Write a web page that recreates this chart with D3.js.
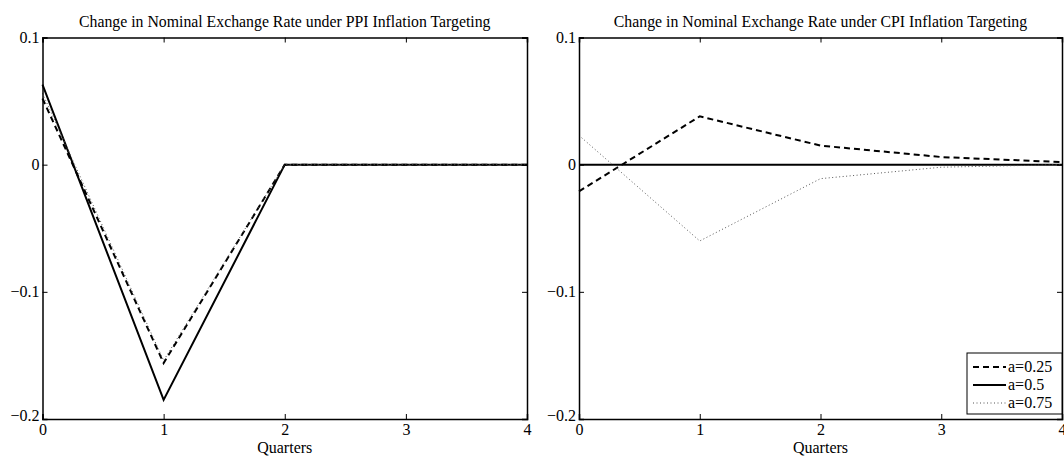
<!DOCTYPE html>
<html>
<head>
<meta charset="utf-8">
<script src="https://cdn.jsdelivr.net/npm/d3@7"></script>
<style>
  body { margin: 0; background: #fff; }
  text { font-family: "Liberation Serif", "Times New Roman", serif; fill: #000; }
</style>
</head>
<body>
<script>
"use strict";
(function(){
    // quarters on x axis
    const quarters = [0, 1, 2, 3, 4]
    const xTicks = [0, 1, 2, 3, 4]
    const yTicks = [0.1, 0, -0.1, -0.2]

    // PPI panel
    const ppiDash = [0.052, -0.156, 0, 0, 0]
    const ppiSolid = [0.063, -0.185, 0, 0, 0]
    const ppiDot = [0.056, -0.154, 0, 0, 0]

    // CPI panel
    const cpiDash = [-0.021, 0.038, 0.015, 0.006, 0.002]
    const cpiSolid = [0, 0, 0, 0, 0]
    const cpiDot = [0.023, -0.060, -0.011, -0.002, 0]

    const legendLabels = ["a=0.25", "a=0.5", "a=0.75"]

    const measurements = {
        width: 1064,
        height: 457,
        top: 37.5,
        bottom: 419
    }

    const styles = [
        { dash: "6,4", width: 2, color: "#000" },
        { dash: null, width: 2, color: "#000" },
        { dash: "1,2.5", width: 1, color: "#555" }
    ]

    const svg = d3.select('body').append("svg")
        .attr('width', measurements.width)
        .attr('height', measurements.height)

    function drawPanel(left, right, title, series, withLegend) {
        const scaleX = d3.scaleLinear().domain([0, 4]).range([left, right])
        const scaleY = d3.scaleLinear().domain([-0.2, 0.1]).range([measurements.bottom, measurements.top])
        const g = svg.append('g')

        // lines
        const line = d3.line()
            .x((d, i) => scaleX(quarters[i]))
            .y(d => scaleY(d))
        series.forEach((s, k) => {
            g.append('path')
                .attr('d', line(s))
                .attr('fill', 'none')
                .attr('stroke', styles[k].color)
                .attr('stroke-width', styles[k].width)
                .attr('stroke-dasharray', styles[k].dash)
        })

        // axes, ticks inward on all sides
        const fmt = d => d === 0 ? "0" : d3.format(".1f")(d).replace("-", "\u2212")
        const xAxis = d3.axisBottom(scaleX).tickValues(xTicks).tickSize(-5).tickPadding(5).tickFormat(d3.format("d"))
        const xTop = d3.axisTop(scaleX).tickValues(xTicks).tickSize(-5).tickFormat("")
        const yAxis = d3.axisLeft(scaleY).tickValues(yTicks).tickSize(-5).tickPadding(3).tickFormat(fmt)
        const yRight = d3.axisRight(scaleY).tickValues(yTicks).tickSize(-5).tickFormat("")

        g.append('g').attr('transform', `translate(0,${measurements.bottom})`).call(xAxis)
        g.append('g').attr('transform', `translate(0,${measurements.top})`).call(xTop)
        const gy = g.append('g').attr('transform', `translate(${left},0)`).call(yAxis)
        g.append('g').attr('transform', `translate(${right},0)`).call(yRight)
        g.selectAll('.domain').attr('stroke', '#000').attr('stroke-width', 1.5)
        g.selectAll('.tick line').attr('stroke', '#000')
        g.selectAll('.tick text').style('font-family', '"Liberation Serif", serif').style('font-size', '16px')

        // -0.2 sits a bit above its tick, like the original
        gy.selectAll('.tick text').filter(d => d === -0.2).attr('dy', '0.1em')

        g.append('text')
            .attr('x', (left + right) / 2)
            .attr('y', 27)
            .attr('text-anchor', 'middle')
            .style('font-size', '15.8px')
            .text(title)

        g.append('text')
            .attr('x', (left + right) / 2)
            .attr('y', 453)
            .attr('text-anchor', 'middle')
            .style('font-size', '16px')
            .text("Quarters")

        if (withLegend) {
            const bx = 967, by = 353, bw = 95, bh = 61
            g.append('rect')
                .attr('x', bx).attr('y', by)
                .attr('width', bw).attr('height', bh)
                .attr('fill', '#fff').attr('stroke', '#000').attr('stroke-width', 1)
            legendLabels.forEach((lab, k) => {
                const yy = by + 14 + k * 18
                g.append('line')
                    .attr('x1', bx + 6).attr('x2', bx + 39)
                    .attr('y1', yy).attr('y2', yy)
                    .attr('stroke', styles[k].color)
                    .attr('stroke-width', styles[k].width)
                    .attr('stroke-dasharray', styles[k].dash)
                g.append('text')
                    .attr('x', bx + 41)
                    .attr('y', yy + 5)
                    .style('font-size', '16px')
                    .text(lab)
            })
        }
    }

    drawPanel(42.5, 527, "Change in Nominal Exchange Rate under PPI Inflation Targeting",
        [ppiDash, ppiSolid, ppiDot], false)
    drawPanel(579, 1062, "Change in Nominal Exchange Rate under CPI Inflation Targeting",
        [cpiDash, cpiSolid, cpiDot], true)
})()
</script>
</body>
</html>
